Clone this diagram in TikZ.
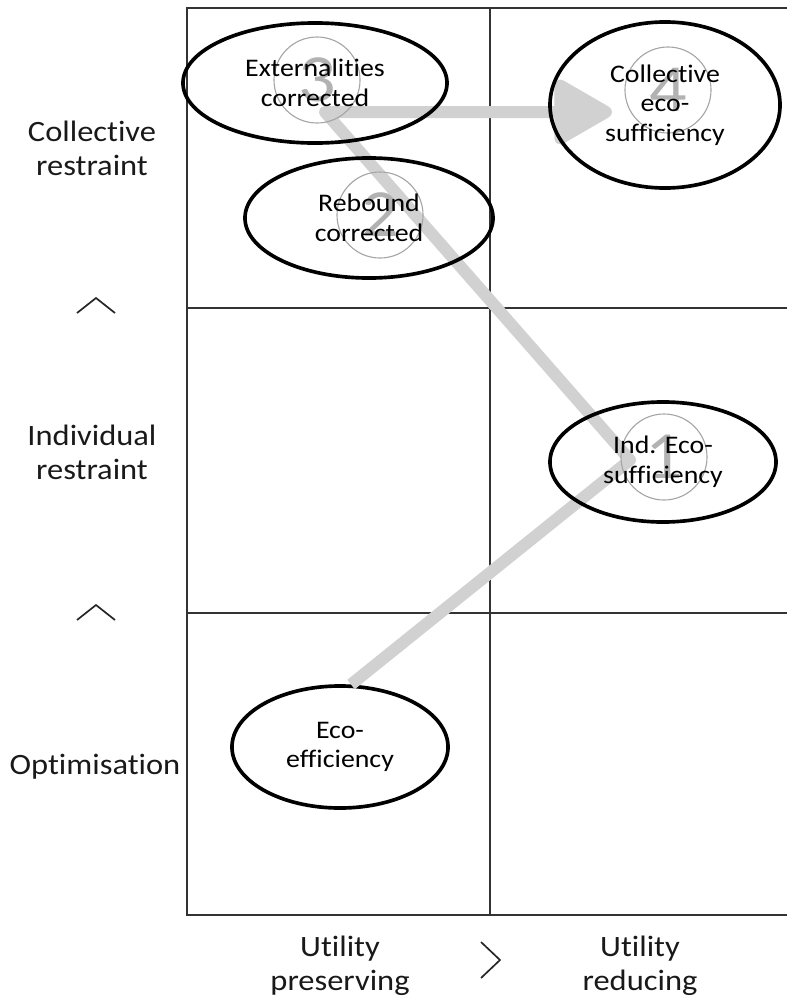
\documentclass[tikz,border=0pt]{standalone}
\usepackage{fontspec}
\setmainfont{Carlito}[FakeStretch=1.1, Ligatures=NoCommon]
\usetikzlibrary{shapes.geometric, arrows.meta, positioning}

\tikzset{
  cell/.style={line width=0.8pt, draw=black!80},
  stage/.style={draw, ellipse, line width=2.6pt, inner sep=0pt, align=center, font=\fontsize{18}{21}\selectfont},
  stepnum/.style={draw=black!35, circle, line width=0.8pt, minimum size=2.15cm, inner sep=0pt, text=black!30, font=\fontsize{48}{48}\selectfont},
  route/.style={draw=black!18, line width=0.3cm, line join=round},
  axislabel/.style={align=center, text=black!90, font=\fontsize{21}{24}\selectfont},
  chevron/.style={line width=1.2pt, draw=black!85},
}

\begin{document}
\begin{tikzpicture}[x=0.025cm, y=-0.025cm]
    \useasboundingbox (0,0) rectangle (787,1007);

    % grid
    \draw[cell] (787,8) -- (187,8) -- (187,915) -- (787,915);
    \draw[cell] (187,308) -- (787,308);
    \draw[cell] (187,613) -- (787,613);
    \draw[cell] (490,8) -- (490,915);

    % axes
    \node[axislabel] (collr) at (92,148) {Collective\\restraint};
    \node[axislabel] (indr) at (92,452) {Individual\\restraint};
    \node[axislabel] (optim) at (95,767) {Optimisation};
    \node[axislabel] (upres) at (340,966) {Utility\\preserving};
    \node[axislabel] (ured) at (640,966) {Utility\\reducing};
    \draw[chevron] (77,313) -- (96,298) -- (115,313);
    \draw[chevron] (77,620) -- (96,605) -- (115,620);
    \draw[chevron] (481,942) -- (500,960) -- (481,978);

    % stages
    \node[stage, minimum width=5.4cm, minimum height=3.05cm] (eff) at (340,747) {Eco-\\efficiency};

    % route
    \coordinate (bendA) at (630,460);
    \coordinate (bendB) at (325,112);
    \coordinate (tip) at (612,112);
    \draw[route, -{Triangle[length=1.6cm, width=1.75cm, round]}] (eff.80) -- (bendA) -- (bendB) -- (tip);

    \node[stepnum] (n1) at (664,457) {1};
    \node[stepnum] (n2) at (380,215) {2};
    \node[stepnum] (n3) at (317,80) {3};
    \node[stepnum] (n4) at (668,90) {4};

    \node[stage, minimum width=6.6cm, minimum height=3cm] (ext) at (315,83) {Externalities\\corrected};
    \node[stage, minimum width=6.2cm, minimum height=3cm] (reb) at (369,218) {Rebound\\corrected};
    \node[stage, minimum width=5.75cm, minimum height=4.15cm] (coll) at (665,105) {Collective\\eco-\\sufficiency};
    \node[stage, minimum width=5.65cm, minimum height=3cm] (ind) at (663,462) {Ind. Eco-\\sufficiency};
\end{tikzpicture}
\end{document}
